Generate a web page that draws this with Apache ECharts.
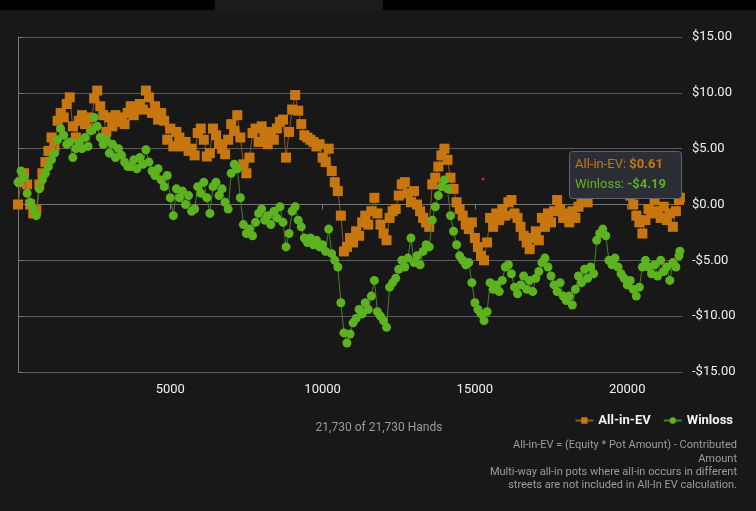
<!DOCTYPE html>
<html>
<head>
<meta charset="utf-8">
<script src="https://cdn.jsdelivr.net/npm/echarts@6/dist/echarts.min.js"></script>
<style>
html,body{margin:0;padding:0;background:#181818;}
#c{width:756px;height:511px;}
</style>
</head>
<body>
<div id="c"></div>
<script>
// hands sampled every 100, final point 21730
const HAND_STEP = 100;
const finalHand = 21730;
const allInEV = [
 0.0,2.0,2.8,1.8,0.0,-0.8,-0.5,1.8,2.8,3.8,
 4.8,6.0,5.2,7.5,8.2,7.8,9.0,9.6,7.0,6.0,
 7.5,8.0,7.2,7.8,6.8,9.5,10.2,8.8,8.0,6.5,
 7.8,7.0,8.0,7.4,7.8,7.2,8.2,8.8,8.0,8.6,
 9.0,8.5,10.2,9.6,8.2,8.8,7.6,8.2,7.5,5.8,
 6.8,5.2,6.5,6.0,5.2,5.6,4.8,5.0,4.4,6.4,
 6.8,5.8,4.3,4.6,6.8,6.2,5.4,5.0,4.5,5.8,
 7.2,6.6,8.0,6.0,3.6,2.8,4.2,6.4,6.8,5.6,
 7.0,6.2,5.4,6.5,5.8,6.8,7.4,7.6,4.2,6.5,
 8.5,9.8,8.4,7.2,6.2,6.0,5.8,5.6,5.2,5.4,
 4.2,3.8,5.0,3.0,2.0,1.2,-1.0,-4.2,-3.8,-3.0,
 -3.4,-2.4,-2.8,-1.6,-1.0,-1.8,-0.6,0.6,-0.8,-1.8,
 -2.6,-3.2,-1.2,-0.6,-0.4,0.8,1.8,2.0,1.0,0.2,
 1.2,0.0,-0.6,-1.2,-1.6,-2.0,1.8,2.4,3.4,4.4,
 5.0,4.0,2.4,1.4,0.2,-0.4,-1.0,-1.8,-2.2,-1.6,
 -3.0,-3.8,-4.6,-5.0,-3.4,-1.2,-2.0,-0.8,-1.4,-0.4,
 -1.0,0.2,0.4,-0.8,-1.2,-2.0,-2.8,-3.4,-4.0,-3.0,
 -2.4,-3.2,-1.2,-2.0,-0.8,-1.6,-0.6,0.4,-0.4,-1.2,
 -0.8,-1.6,-0.6,-1.2,-0.2,0.4,0.8,0.2,1.0,1.6,
 2.2,1.4,2.6,3.0,2.0,1.6,2.4,1.8,1.2,2.0,
 1.0,0.8,0.0,-1.0,-1.6,-2.6,-1.4,-0.4,-0.8,0.4,
 -0.6,-1.2,-0.2,-1.4,-0.8,-2.0,-0.6,0.4,
 0.61
];
const winloss = [
 2.0,3.0,2.4,1.0,0.2,-0.4,-1.0,1.4,2.2,2.8,
 3.4,4.0,4.6,5.8,6.8,6.2,5.4,5.6,4.2,5.0,
 5.6,5.0,6.0,5.2,6.6,7.8,7.0,6.0,5.4,5.8,
 4.6,5.4,4.2,5.0,4.4,3.8,3.4,3.4,4.0,3.2,
 4.2,3.6,4.9,3.8,3.0,2.6,3.2,2.2,1.6,2.6,
 0.6,-1.0,1.4,0.6,1.2,0.0,0.8,-0.6,-0.4,1.6,
 1.0,2.0,0.6,-0.8,1.6,2.0,0.8,1.4,0.2,-0.4,
 2.8,3.6,3.2,0.6,-1.8,-2.6,-2.2,-2.8,-1.6,-0.8,
 -0.4,-1.4,-1.0,-1.8,-0.6,-1.2,-0.2,-1.6,-3.8,-2.6,
 -0.6,-0.2,-1.4,-2.0,-3.0,-3.4,-3.0,-3.6,-3.2,-3.8,
 -3.6,-4.2,-2.2,-4.4,-5.0,-5.6,-8.8,-11.5,-12.4,-11.6,
 -10.6,-10.2,-9.4,-9.8,-8.8,-9.4,-8.2,-6.8,-9.6,-10.0,
 -10.4,-11.0,-7.4,-7.0,-6.6,-5.8,-5.0,-5.6,-4.8,-3.0,
 -5.2,-4.6,-5.4,-4.2,-3.6,-3.8,-1.4,-0.2,0.8,1.6,
 2.2,1.4,-1.0,-2.4,-3.6,-4.6,-5.0,-5.4,-5.2,-7.0,
 -8.8,-9.4,-9.8,-10.4,-9.6,-7.0,-7.6,-7.2,-7.8,-6.8,
 -5.6,-5.4,-6.2,-7.4,-8.0,-7.2,-6.4,-7.6,-6.8,-7.8,
 -6.6,-6.0,-5.2,-4.8,-5.6,-6.4,-7.2,-7.8,-7.0,-8.2,
 -8.6,-8.2,-9.0,-7.6,-6.4,-7.0,-5.8,-6.6,-5.6,-6.2,
 -3.2,-2.6,-2.2,-2.8,-5.0,-5.4,-4.8,-5.6,-6.2,-6.6,
 -7.2,-6.8,-7.6,-8.2,-7.4,-5.6,-5.0,-5.6,-6.2,-5.4,
 -6.4,-5.0,-6.0,-5.6,-6.8,-5.2,-5.6,-4.6,
 -4.19
];
const xTickInterval = 5000;
const yTicks = [-15, -10, -5, 0, 5, 10, 15];
const seriesNames = ['All-in-EV', 'Winloss'];
const handsLabel = '21,730 of 21,730 Hands';
const noteLines = [
  'All-in-EV = (Equity * Pot Amount) - Contributed',
  'Amount',
  'Multi-way all-in pots where all-in occurs in different',
  'streets are not included in All-In EV calculation.'
];
const tipEV = '$0.61';
const tipWL = '-$4.19';

function handsAt(i, arr){ return i === arr.length - 1 ? finalHand : i * HAND_STEP; }
const evData = allInEV.map((v,i)=>[handsAt(i,allInEV), v]);
const wlData = winloss.map((v,i)=>[handsAt(i,winloss), v]);

const ORANGE = '#c8760f';
const GREEN = '#5cb31f';
const money = v => (v < 0 ? '-' : '') + '$' + Math.abs(v).toFixed(2);

const noteGraphics = noteLines.map((t, k) => ({
  type: 'text', right: 19, top: 440 + k * 13.4,
  style: { text: t, fill: '#9c9c9c', fontSize: 11, fontFamily: 'Roboto, sans-serif' }
}));

const chart = echarts.init(document.getElementById('c'));
chart.setOption({
  backgroundColor: '#181818',
  animation: false,
  textStyle: { fontFamily: 'Roboto, "Open Sans", sans-serif' },
  grid: { left: 18, right: 74, top: 37, bottom: 139 },
  title: {
    text: handsLabel,
    left: 374, top: 417, textAlign: 'center',
    textStyle: { color: '#9a9a9a', fontSize: 12, fontWeight: 'normal' }
  },
  legend: {
    right: 18, top: 409,
    itemWidth: 18, itemHeight: 8, itemGap: 12,
    textStyle: { color: '#f2f2f2', fontSize: 13, fontWeight: 'bold' },
    data: seriesNames
  },
  xAxis: {
    type: 'value', min: 0, max: 21800, interval: xTickInterval,
    axisLine: { show: true, lineStyle: { color: '#777' } },
    axisTick: { show: true, length: 5, lineStyle: { color: '#777' } },
    splitLine: { show: false },
    axisLabel: { color: '#f0f0f0', fontSize: 13, margin: 11, showMaxLabel: false, showMinLabel: false,
                 formatter: v => String(v) }
  },
  yAxis: {
    type: 'value', position: 'right', min: yTicks[0], max: yTicks[yTicks.length-1], interval: 5,
    axisLine: { show: true, lineStyle: { color: '#777' } },
    axisTick: { show: true, length: 5, lineStyle: { color: '#777' } },
    splitLine: { show: true, lineStyle: { color: '#5a5a5a', width: 1 } },
    axisLabel: { color: '#f0f0f0', fontSize: 13, margin: 10, formatter: money }
  },
  series: [
    {
      name: seriesNames[0], type: 'line', data: evData,
      symbol: 'rect', symbolSize: 10, showAllSymbol: true,
      itemStyle: { color: ORANGE },
      lineStyle: { color: '#8a5a1c', width: 1 },
      z: 2
    },
    {
      name: seriesNames[1], type: 'line', data: wlData,
      symbol: 'circle', symbolSize: 9, showAllSymbol: true,
      itemStyle: { color: GREEN },
      lineStyle: { color: '#4a7d2a', width: 1 },
      z: 3
    }
  ],
  graphic: [
    { type: 'rect', left: 0, top: 0, shape: { width: 215, height: 10 }, style: { fill: '#000' } },
    { type: 'rect', left: 383, top: 0, shape: { width: 373, height: 10 }, style: { fill: '#000' } },
    { type: 'rect', left: 215, top: 0, shape: { width: 168, height: 10 }, style: { fill: '#1c1c1c' } },
    ...noteGraphics,
    { type: 'circle', zlevel: 1, z: 100, shape: { cx: 483, cy: 179, r: 1.6 }, style: { fill: '#e02020' } },
    { type: 'rect', zlevel: 2, z: 100, left: 569, top: 151,
      shape: { width: 112, height: 47, r: 3 },
      style: { fill: 'rgb(44,46,54)', stroke: '#5f636d', lineWidth: 1 } },
    { type: 'text', zlevel: 2, z: 101, left: 575, top: 158,
      style: { rich: {
          a: { fill: ORANGE, fontSize: 13, fontFamily: 'Roboto, sans-serif' },
          ab: { fill: ORANGE, fontSize: 13, fontWeight: 'bold', fontFamily: 'Roboto, sans-serif' }
        }, text: '{a|All-in-EV: }{ab|' + tipEV + '}' } },
    { type: 'text', zlevel: 2, z: 101, left: 575, top: 178,
      style: { rich: {
          g: { fill: GREEN, fontSize: 13, fontFamily: 'Roboto, sans-serif' },
          gb: { fill: GREEN, fontSize: 13, fontWeight: 'bold', fontFamily: 'Roboto, sans-serif' }
        }, text: '{g|Winloss: }{gb|' + tipWL + '}' } }
  ]
});
</script>
</body>
</html>
